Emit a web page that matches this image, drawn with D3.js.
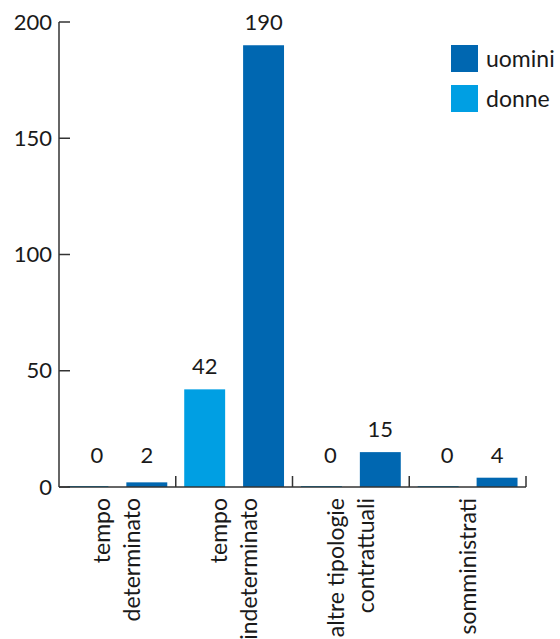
<!DOCTYPE html>
<html>
<head>
<meta charset="utf-8">
<script src="https://cdn.jsdelivr.net/npm/d3@7"></script>
<style>
  body { margin: 0; background: #fff; }
  svg text { font-family: Lato, "Open Sans", sans-serif; fill: #1a1a1a; }
</style>
</head>
<body>
<div id="chart"></div>
<script>
// data
var categories = [["tempo", "determinato"], ["tempo", "indeterminato"], ["altre tipologie", "contrattuali"], ["somministrati"]];
var series = ["donne", "uomini"];
var donne = [0, 42, 0, 0];
var uomini = [2, 190, 15, 4];
var yTicks = [0, 50, 100, 150, 200];
var colors = {uomini: "#0067b1", donne: "#009fe3"};

var width = 560, height = 639;
var margin = {top: 22, right: 34, bottom: 152, left: 59};

var svg = d3.select("#chart").append("svg")
    .attr("width", width)
    .attr("height", height);

var x = d3.scaleBand()
    .domain(d3.range(categories.length))
    .range([margin.left, width - margin.right])
    .padding(0);

var xs = d3.scaleBand()
    .domain(series)
    .range([0, x.bandwidth()])
    .paddingInner(0.305)
    .paddingOuter(0.144);

var y = d3.scaleLinear()
    .domain([0, 200])
    .range([height - margin.bottom, margin.top]);

var rows = [];
categories.forEach(function(c, i) {
  rows.push({cat: i, key: "donne", value: donne[i]});
  rows.push({cat: i, key: "uomini", value: uomini[i]});
});

// bars
svg.append("g")
  .selectAll("rect")
  .data(rows)
  .enter().append("rect")
    .attr("x", function(d) { return x(d.cat) + xs(d.key); })
    .attr("y", function(d) { return Math.min(y(d.value), y(0) - 1); })
    .attr("width", xs.bandwidth())
    .attr("height", function(d) { return Math.max(y(0) - y(d.value), 1); })
    .style("fill", function(d) { return colors[d.key]; });

// value labels (empty bars get their label nudged right, like the original)
svg.append("g")
  .selectAll("text")
  .data(rows)
  .enter().append("text")
    .attr("x", function(d) { return x(d.cat) + xs(d.key) + xs.bandwidth() / 2 + (d.value === 0 ? 9 : 0); })
    .attr("y", function(d) { return Math.min(y(d.value) - 15, y(0) - 24); })
    .attr("text-anchor", "middle")
    .style("font-size", "22px")
    .text(function(d) { return d.value; });

// y axis
var yAxis = svg.append("g")
    .attr("transform", "translate(" + margin.left + ",0)");
yAxis.append("line")
    .attr("x1", 0).attr("x2", 0)
    .attr("y1", y(200)).attr("y2", y(0))
    .style("stroke", "#333").style("stroke-width", 1.5);
yAxis.selectAll(".tick")
  .data(yTicks)
  .enter().append("line")
    .attr("x1", 0).attr("x2", 11)
    .attr("y1", function(d) { return y(d); })
    .attr("y2", function(d) { return y(d); })
    .style("stroke", "#333").style("stroke-width", 1.5);
yAxis.selectAll("text")
  .data(yTicks)
  .enter().append("text")
    .attr("x", -7)
    .attr("y", function(d) { return y(d); })
    .attr("dy", "0.35em")
    .attr("text-anchor", "end")
    .style("font-size", "22px")
    .text(function(d) { return d; });

// x axis
var xAxis = svg.append("g");
xAxis.append("line")
    .attr("x1", margin.left).attr("x2", width - margin.right)
    .attr("y1", y(0)).attr("y2", y(0))
    .style("stroke", "#333").style("stroke-width", 1.5);
xAxis.selectAll(".tick")
  .data(d3.range(categories.length))
  .enter().append("line")
    .attr("x1", function(d) { return x(d) + x.bandwidth(); })
    .attr("x2", function(d) { return x(d) + x.bandwidth(); })
    .attr("y1", y(0)).attr("y2", y(0) - 11)
    .style("stroke", "#333").style("stroke-width", 1.5);

var labels = xAxis.selectAll(".lab")
  .data(categories)
  .enter().append("g")
    .attr("transform", function(d, i) {
      return "translate(" + (x(i) + x.bandwidth() / 2) + "," + (y(0) + 11) + ") rotate(-90)";
    });
labels.each(function(lines) {
  var g = d3.select(this);
  var lh = 30;
  lines.forEach(function(t, j) {
    g.append("text")
      .attr("x", 0)
      .attr("y", (j - (lines.length - 1) / 2) * lh)
      .attr("dy", "0.35em")
      .attr("text-anchor", "end")
      .style("font-size", "23px")
      .text(t);
  });
});

// legend
var legendKeys = ["uomini", "donne"];
var legend = svg.append("g")
  .selectAll("g")
  .data(legendKeys)
  .enter().append("g")
    .attr("transform", function(d, i) { return "translate(451," + (45 + i * 40) + ")"; });
legend.append("rect")
    .attr("width", 27).attr("height", 27)
    .style("fill", function(d) { return colors[d]; });
legend.append("text")
    .attr("x", 35).attr("y", 13.5)
    .attr("dy", "0.35em")
    .style("font-size", "23px")
    .text(function(d) { return d; });
</script>
</body>
</html>
